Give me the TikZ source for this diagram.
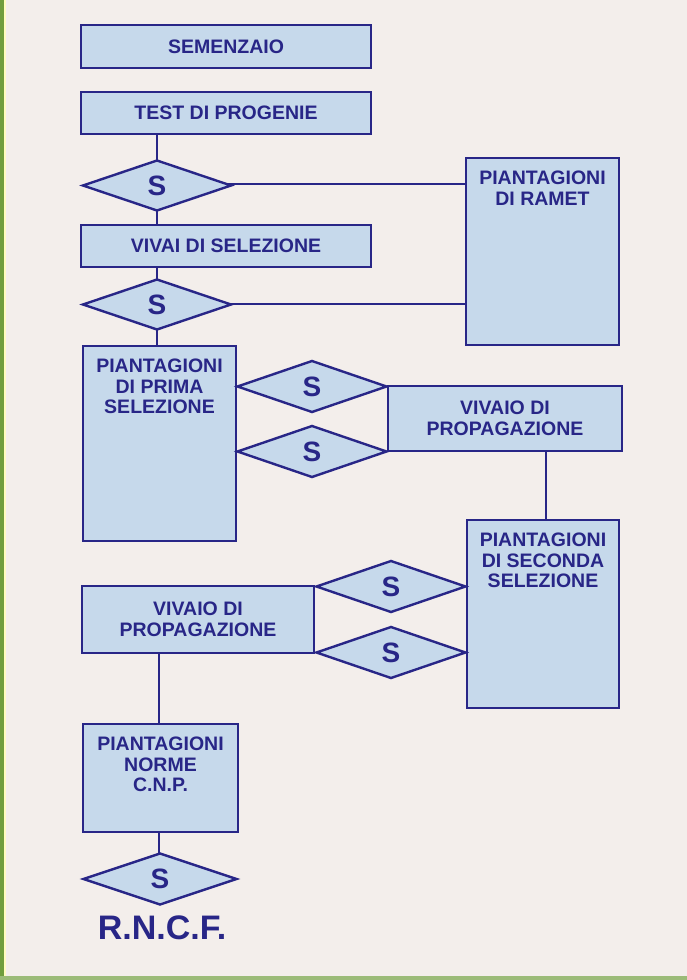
\documentclass[tikz,border=0pt]{standalone}
\usepackage{fontspec}
\setmainfont{Liberation Sans}
\usetikzlibrary{shapes.geometric}

\definecolor{navy}{RGB}{40,38,135}
\definecolor{boxblue}{RGB}{198,217,235}
\definecolor{paper}{RGB}{243,238,235}
\definecolor{pagegreen}{RGB}{112,158,62}

\begin{document}
\begin{tikzpicture}[x=1pt,y=-1pt,
    box/.style={rectangle,draw=navy,fill=boxblue,line width=2.4pt,text=navy,
      font=\fontsize{19.5}{20.5}\selectfont\bfseries,align=center,inner sep=0pt},
    toptext/.style={label={[anchor=north,yshift=-13pt,inner sep=0pt,text=navy,
      font=\fontsize{19.5}{20.5}\selectfont\bfseries,align=center]north:#1}},
    sel/.style={diamond,aspect=2.9,draw=navy,fill=boxblue,line width=2.4pt,text=navy,
      font=\fontsize{28}{28}\selectfont\bfseries,inner sep=0pt,
      minimum width=150pt,minimum height=52pt},
    link/.style={draw=navy,line width=2.4pt}]

      % page
      \fill[paper] (0,0) rectangle (687,980);
      \fill[pagegreen] (0,0) rectangle (4,980);
      \fill[yellow!25] (4,0) rectangle (6,980);
      \fill[pagegreen!70] (0,976) rectangle (687,980);
      \useasboundingbox (0,0) rectangle (687,980);

      % connectors first, boxes on top
      \coordinate (c1)  at (157,134);
      \coordinate (c2)  at (157,225);
      \coordinate (c3)  at (157,267);
      \coordinate (c4)  at (157,346);
      \coordinate (c5)  at (466,184);
      \coordinate (c6)  at (466,304);
      \coordinate (c7)  at (546,451);
      \coordinate (c8)  at (546,520);
      \coordinate (c9)  at (159,653);
      \coordinate (c10) at (159,724);
      \coordinate (c11) at (159,832);
      \coordinate (c12) at (159,853);

      \begin{scope}[every path/.style={link}]
        \path (c1)  edge (c2);
        \path (c3)  edge (c4);
        \path (157,184) edge (c5);
        \path (157,304) edge (c6);
        \path (c7)  edge (c8);
        \path (c9)  edge (c10);
        \path (c11) edge (c12);
      \end{scope}

      \begin{scope}[every node/.style={box}]
        \node[minimum width=290pt,minimum height=43pt] (sem)  at (226,46.5)  {SEMENZAIO};
        \node[minimum width=290pt,minimum height=42pt] (test) at (226,113)   {TEST DI PROGENIE};
        \node[minimum width=290pt,minimum height=42pt] (viv)  at (226,246)   {VIVAI DI SELEZIONE};
        \node[minimum width=153pt,minimum height=187pt,
              toptext={PIANTAGIONI\\DI RAMET}] (ramet) at (542.5,251.5) {};
        \node[minimum width=153pt,minimum height=195pt,
              toptext={PIANTAGIONI\\DI PRIMA\\SELEZIONE}] (prima) at (159.5,443.5) {};
        \node[minimum width=234pt,minimum height=65pt] (prop1) at (505,418.5)
              {VIVAIO DI\\PROPAGAZIONE};
        \node[minimum width=152pt,minimum height=188pt,
              toptext={PIANTAGIONI\\DI SECONDA\\SELEZIONE}] (sec) at (543,614) {};
        \node[minimum width=232pt,minimum height=67pt] (prop2) at (198,619.5)
              {VIVAIO DI\\PROPAGAZIONE};
        \node[minimum width=155pt,minimum height=108pt,
              toptext={PIANTAGIONI\\NORME\\C.N.P.}] (cnp) at (160.5,778) {};
      \end{scope}

      \begin{scope}[every node/.style={sel}]
        \node[minimum width=149pt,minimum height=51pt] (s1) at (157,185.5) {S};
        \node[minimum width=149pt,minimum height=51pt] (s2) at (157,304.5) {S};
        \node (s3) at (312,386.5) {S};
        \node (s4) at (312,451.5) {S};
        \node (s5) at (391,586.5) {S};
        \node (s6) at (391,652.5) {S};
        \node[minimum width=154pt] (s7) at (160,879) {S};
      \end{scope}

      \node[text=navy,font=\fontsize{34}{34}\selectfont\bfseries] (rncf) at (162,928) {R.N.C.F.};

    \end{tikzpicture}
\end{document}
